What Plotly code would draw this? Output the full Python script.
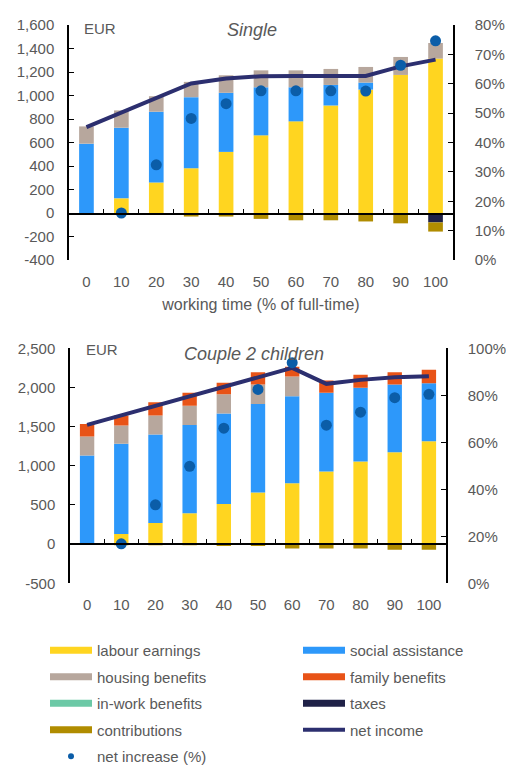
import plotly.graph_objects as go

# working time (% of full-time)
hours = [0, 10, 20, 30, 40, 50, 60, 70, 80, 90, 100]

# --- Single (EUR / month)
s_labour = [0, 125, 260, 381, 520, 661, 780, 915, 1050, 1175, 1314]
s_social = [590, 601, 602, 605, 503, 409, 290, 175, 60, 0, 0]
s_housing = [147, 147, 132, 130, 149, 144, 144, 136, 133, 153, 133]
s_family = [0, 0, 0, 0, 0, 0, 0, 0, 0, 0, 0]
s_inwork = [0, 0, 0, 0, 0, 0, 0, 0, 0, 0, 0]
s_taxes = [0, 0, 0, 0, 0, 0, 0, 0, 0, 0, -80]
s_contrib = [0, -10, -15, -30, -30, -50, -62, -62, -72, -88, -78]
s_net = [731, 855, 983, 1102, 1144, 1164, 1167, 1167, 1167, 1248, 1305]
s_incr = [None, 16, 32.4, 48.2, 53.2, 57.6, 57.6, 57.6, 57.5, 66.3, 74.6]

# --- Couple 2 children (EUR / month)
c_labour = [0, 130, 271, 393, 513, 658, 777, 926, 1054, 1172, 1313]
c_social = [1130, 1150, 1127, 1129, 1154, 1132, 1111, 1005, 941, 865, 741]
c_housing = [243, 233, 243, 243, 246, 247, 251, 0, 0, 0, 0]
c_family = [162, 128, 170, 166, 146, 157, 125, 157, 166, 157, 171]
c_inwork = [0, 0, 0, 0, 0, 0, 0, 0, 0, 0, 0]
c_taxes = [0, 0, 0, 0, 0, 0, 0, 0, 0, 0, 0]
c_contrib = [0, -5, -10, -15, -25, -25, -55, -55, -55, -72, -72]
c_net = [1522, 1645, 1766, 1888, 2008, 2130, 2250, 2046, 2097, 2130, 2143]
c_incr = [None, 16.8, 33.4, 49.8, 66, 82.5, 93.9, 67.3, 72.8, 79, 80.4]

top_ticks = [-400, -200, 0, 200, 400, 600, 800, 1000, 1200, 1400, 1600]
top_text = ["-400", "-200", "0", "200", "400", "600", "800", "1,000", "1,200", "1,400", "1,600"]
top_pct = [0, 10, 20, 30, 40, 50, 60, 70, 80]
bot_ticks = [-500, 0, 500, 1000, 1500, 2000, 2500]
bot_text = ["-500", "0", "500", "1,000", "1,500", "2,000", "2,500"]
bot_pct = [0, 20, 40, 60, 80, 100]
between = [5, 15, 25, 35, 45, 55, 65, 75, 85, 95]

colors = {
    "labour earnings": "#FFD520",
    "social assistance": "#2D98FA",
    "housing benefits": "#B7A79D",
    "family benefits": "#E85317",
    "in-work benefits": "#6CC9A6",
    "taxes": "#1F2147",
    "contributions": "#B08C00",
}
net_col = "#2C2F6F"
dot_col = "#0B5DA8"
grey = "#595959"
FONT = "Liberation Sans"

fig = go.Figure()


def add_panel(xa, ya, ya2, xz, parts, net, incr):
    for name, vals in parts:
        fig.add_trace(go.Bar(x=hours, y=vals, name=name, marker_color=colors[name],
                             marker_line_width=0, xaxis=xa, yaxis=ya, showlegend=False))
    fig.add_trace(go.Scatter(x=hours, y=net, mode="lines", line=dict(color=net_col, width=4),
                             xaxis=xa, yaxis=ya, showlegend=False))
    fig.add_trace(go.Scatter(x=hours, y=incr, mode="markers",
                             marker=dict(color=dot_col, size=11),
                             xaxis=xa, yaxis=ya2, showlegend=False))
    # invisible trace so the zero-line tick axis is drawn
    fig.add_trace(go.Scatter(x=[None], y=[None], xaxis=xz, yaxis=ya, showlegend=False))


add_panel("x", "y", "y2", "x3",
          [("labour earnings", s_labour), ("social assistance", s_social),
           ("housing benefits", s_housing), ("family benefits", s_family),
           ("in-work benefits", s_inwork), ("taxes", s_taxes), ("contributions", s_contrib)],
          s_net, s_incr)
add_panel("x2", "y3", "y4", "x4",
          [("labour earnings", c_labour), ("social assistance", c_social),
           ("housing benefits", c_housing), ("family benefits", c_family),
           ("in-work benefits", c_inwork), ("taxes", c_taxes), ("contributions", c_contrib)],
          c_net, c_incr)

# legend entries (two columns)
col1 = ["labour earnings", "housing benefits", "in-work benefits", "contributions"]
col2 = ["social assistance", "family benefits", "taxes"]
for i, name in enumerate(col1):
    fig.add_trace(go.Scatter(x=[None], y=[None], mode="lines", name=name,
                             line=dict(color=colors[name], width=7),
                             legend="legend", legendgroup="a%d" % i))
fig.add_trace(go.Scatter(x=[None], y=[None], mode="markers", name="net increase (%)",
                         marker=dict(color=dot_col, size=6),
                         legend="legend", legendgroup="a9"))
for i, name in enumerate(col2):
    fig.add_trace(go.Scatter(x=[None], y=[None], mode="lines", name=name,
                             line=dict(color=colors[name], width=7),
                             legend="legend2", legendgroup="b%d" % i))
fig.add_trace(go.Scatter(x=[None], y=[None], mode="lines", name="net income",
                         line=dict(color=net_col, width=4),
                         legend="legend2", legendgroup="b9"))

W, H = 506, 765
tickfont = dict(family=FONT, size=15, color=grey)


def px_x(p):
    return p / W


def px_y(p):
    return 1 - p / H


xcat = dict(range=[-5, 105], tickvals=hours, showline=False, ticks="",
            showgrid=False, zeroline=False, tickfont=tickfont, ticklabelstandoff=11)
xzero = dict(range=[-5, 105], tickvals=between, showticklabels=False, ticks="inside",
             ticklen=4, tickcolor="black", showline=True, linecolor="black", linewidth=1.5,
             showgrid=False, zeroline=False, anchor="free")
yleft = dict(showgrid=False, zeroline=False, showline=True, linecolor="black", linewidth=1.5,
             ticks="inside", ticklen=5, tickcolor="black", tickfont=tickfont,
             ticklabelstandoff=10, automargin=False)
yright = dict(showgrid=False, zeroline=False, showline=True, linecolor="black", linewidth=1.5,
              ticks="inside", ticklen=5, tickcolor="black", tickfont=tickfont,
              ticklabelstandoff=17, side="right", automargin=False)

legfont = dict(family=FONT, size=15, color=grey)

fig.update_layout(
    width=W, height=H,
    margin=dict(l=0, r=0, t=0, b=0, autoexpand=False),
    paper_bgcolor="white", plot_bgcolor="white",
    barmode="relative", bargap=0.58,
    font=dict(family=FONT, size=15, color=grey),
    xaxis=dict(xcat, domain=[px_x(69), px_x(453)], anchor="y",
               title=dict(text="working time (% of full-time)", font=dict(size=16, color=grey),
                          standoff=9)),
    xaxis3=dict(xzero, domain=[px_x(69), px_x(453)], overlaying="x", position=px_y(214)),
    yaxis=dict(yleft, domain=[px_y(260), px_y(25)], range=[-400, 1600], anchor="x",
               tickvals=top_ticks, ticktext=top_text),
    yaxis2=dict(yright, overlaying="y", anchor="x", range=[0, 80],
                tickvals=top_pct, ticktext=["%d%%" % v for v in top_pct]),
    xaxis2=dict(xcat, domain=[px_x(70), px_x(446)], anchor="y3"),
    xaxis4=dict(xzero, domain=[px_x(70), px_x(446)], overlaying="x2", position=px_y(543.5)),
    yaxis3=dict(yleft, domain=[px_y(583.3), px_y(348.3)], range=[-500, 2500], anchor="x2",
                tickvals=bot_ticks, ticktext=bot_text),
    yaxis4=dict(yright, overlaying="y3", anchor="x2", range=[0, 100],
                tickvals=bot_pct, ticktext=["%d%%" % v for v in bot_pct]),
    legend=dict(x=px_x(45), y=px_y(634), xanchor="left", yanchor="top",
                traceorder="grouped", tracegroupgap=4, itemwidth=42,
                font=legfont, bgcolor="rgba(0,0,0,0)"),
    legend2=dict(x=px_x(298), y=px_y(634), xanchor="left", yanchor="top",
                 traceorder="grouped", tracegroupgap=4, itemwidth=42,
                 font=legfont, bgcolor="rgba(0,0,0,0)"),
    annotations=[
        dict(text="<i>Single</i>", x=px_x(252), y=px_y(30), xref="paper", yref="paper",
             showarrow=False, font=dict(size=18, color=grey, family=FONT),
             xanchor="center", yanchor="middle"),
        dict(text="EUR", x=px_x(82), y=px_y(29), xref="paper", yref="paper",
             showarrow=False, font=dict(size=15, color=grey, family=FONT),
             xanchor="left", yanchor="middle"),
        dict(text="<i>Couple 2 children</i>", x=px_x(254), y=px_y(354), xref="paper", yref="paper",
             showarrow=False, font=dict(size=18, color=grey, family=FONT),
             xanchor="center", yanchor="middle"),
        dict(text="EUR", x=px_x(84), y=px_y(350), xref="paper", yref="paper",
             showarrow=False, font=dict(size=15, color=grey, family=FONT),
             xanchor="left", yanchor="middle"),
    ],
)

fig.write_html("out.html", config={"displayModeBar": False},
               post_script="document.body.style.margin='0';")
